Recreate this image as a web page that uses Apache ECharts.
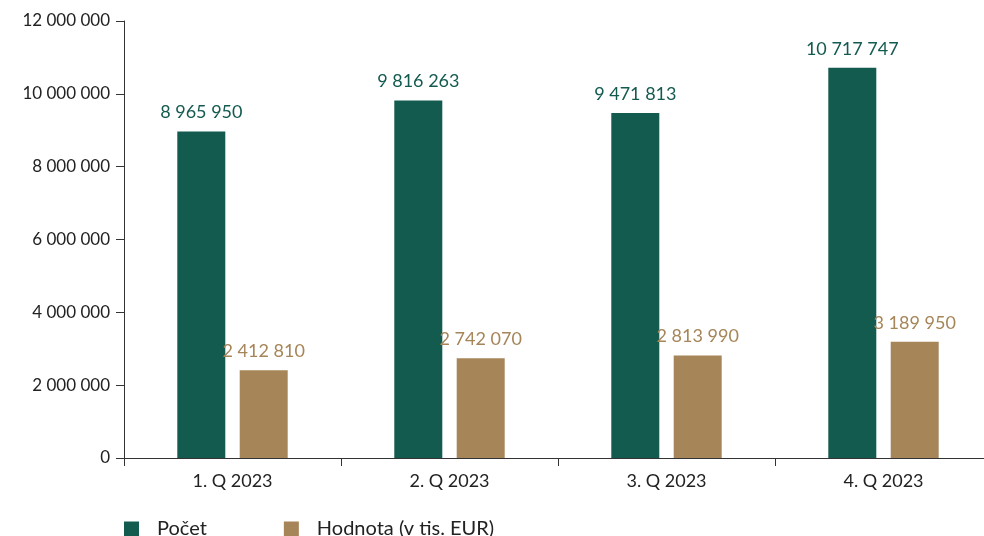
<!DOCTYPE html>
<html><head><meta charset="utf-8">
<script src="https://cdn.jsdelivr.net/npm/echarts@6/dist/echarts.min.js"></script>
<style>html,body{margin:0;padding:0;background:#fff;overflow:hidden}#c{width:992px;height:536px}</style>
</head><body><div id="c"></div>
<script>
const categories = ['1. Q 2023', '2. Q 2023', '3. Q 2023', '4. Q 2023'];
const pocet = [8965950, 9816263, 9471813, 10717747];
const hodnota = [2412810, 2742070, 2813990, 3189950];
const seriesNames = ['Počet', 'Hodnota (v tis. EUR)'];

const fmt = v => String(Math.round(v)).replace(/\B(?=(\d{3})+(?!\d))/g, ' ');
const FONT = 'Lato';
const chart = echarts.init(document.getElementById('c'));
chart.setOption({
  animation: false,
  textStyle: { fontFamily: FONT },
  grid: { left: 124, right: 0, top: 21, height: 437 },
  legend: {
    left: 124, top: 517, padding: 0, itemWidth: 15, itemHeight: 15, itemGap: 77,
    icon: 'rect',
    textStyle: { fontFamily: FONT, fontSize: 20, lineHeight: 24, color: '#222', padding: [0, 0, 0, 13] },
    data: seriesNames
  },
  xAxis: {
    type: 'category', data: categories,
    axisLine: { lineStyle: { color: '#333', width: 1 } },
    axisTick: { show: true, length: 8, lineStyle: { color: '#333' } },
    axisLabel: { fontFamily: FONT, fontSize: 18, color: '#222', margin: 14 }
  },
  yAxis: {
    type: 'value', min: 0, max: 12000000, interval: 2000000,
    axisLine: { show: true, lineStyle: { color: '#333' } },
    axisTick: { show: true, length: 8, lineStyle: { color: '#333' } },
    splitLine: { show: false },
    axisLabel: { fontFamily: FONT, fontSize: 17, color: '#222', margin: 14, formatter: v => fmt(v) }
  },
  series: [
    { name: seriesNames[0], type: 'bar', data: pocet, barWidth: 48, barGap: '30%',
      itemStyle: { color: '#135a4f' },
      label: { show: true, position: 'top', distance: 10, fontFamily: FONT, fontSize: 18, color: '#135a4f', formatter: p => fmt(p.value) } },
    { name: seriesNames[1], type: 'bar', data: hodnota, barWidth: 48,
      itemStyle: { color: '#a68559' },
      label: { show: true, position: 'top', distance: 10, fontFamily: FONT, fontSize: 18, color: '#a68559', formatter: p => fmt(p.value) } }
  ]
});
</script></body></html>
